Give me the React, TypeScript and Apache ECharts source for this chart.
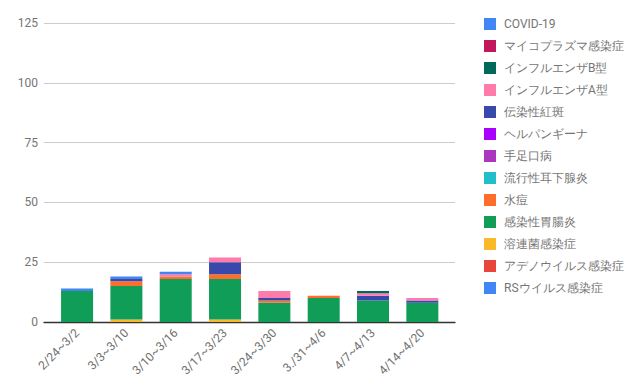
import React, { useEffect, useRef } from "react";
import * as echarts from "echarts";

const categories = ["2/24~3/2", "3/3~3/10", "3/10~3/16", "3/17~3/23", "3/24~3/30", "3./31~4/6", "4/7~4/13", "4/14~4/20"];
const yTicks = { min: 0, max: 125, interval: 25 };

// stacking order: bottom -> top
const seriesNames = [
  "RSウイルス感染症",
  "アデノウイルス感染症",
  "溶連菌感染症",
  "感染性胃腸炎",
  "水痘",
  "流行性耳下腺炎",
  "手足口病",
  "ヘルパンギーナ",
  "伝染性紅斑",
  "インフルエンザA型",
  "インフルエンザB型",
  "マイコプラズマ感染症",
  "COVID-19",
];
const seriesColors = [
  "#4285F4",
  "#E8453C",
  "#FBB829",
  "#0F9D58",
  "#FF6D2A",
  "#22BFCB",
  "#AB36C0",
  "#AA00FF",
  "#3849AB",
  "#FF7BAC",
  "#00695C",
  "#C2185B",
  "#4285F4",
];
const rsValues = [0, 0, 0, 0, 0, 0, 0, 0];
const adenoValues = [0, 0, 0, 0, 0, 0, 0, 0];
const strepValues = [0, 1, 0, 1, 0, 0, 0, 0];
const gastroValues = [13, 14, 18, 17, 8, 10, 9, 8];
const varicellaValues = [0, 2, 1, 2, 1, 1, 0, 0];
const mumpsValues = [0, 0, 0, 0, 0, 0, 0, 0];
const hfmdValues = [0, 0, 0, 0, 0, 0, 0, 0];
const herpanginaValues = [0, 0, 0, 0, 0, 0, 0, 0];
const erythemaValues = [0, 1, 0, 5, 1, 0, 2, 1];
const fluAValues = [0, 0, 1, 2, 3, 0, 1, 1];
const fluBValues = [0, 0, 0, 0, 0, 0, 1, 0];
const mycoValues = [0, 0, 0, 0, 0, 0, 0, 0];
const covidValues = [1, 1, 1, 0, 0, 0, 0, 0];

const seriesValues = [
  rsValues, adenoValues, strepValues, gastroValues, varicellaValues, mumpsValues,
  hfmdValues, herpanginaValues, erythemaValues, fluAValues, fluBValues, mycoValues, covidValues,
];

export default function App() {
  const ref = useRef<HTMLDivElement>(null);
  useEffect(() => {
    if (!ref.current) return;
    const chart = echarts.init(ref.current, undefined, { renderer: "svg" });
    const font = "Roboto, Arial, sans-serif";
    chart.setOption({
      animation: false,
      backgroundColor: "#ffffff",
      legend: {
        orient: "vertical",
        left: 479,
        top: 13,
        itemWidth: 12,
        itemHeight: 12,
        itemGap: 10,
        icon: "rect",
        data: [...seriesNames].reverse(),
        textStyle: { color: "#757575", fontSize: 12, fontFamily: font, lineHeight: 12, padding: [0, 0, 0, 3] },
        selectedMode: false,
      },
      grid: [
        { left: 44, right: 183, top: 23, bottom: 70 },
        { left: 52.4, right: 191, top: 23, bottom: 70 },
      ],
      xAxis: [
        {
          type: "category",
          gridIndex: 0,
          data: categories,
          axisLine: { show: true, lineStyle: { color: "#333333", width: 1.3 } },
          axisTick: { show: false },
          axisLabel: { show: false },
        },
        {
          type: "category",
          gridIndex: 1,
          data: categories,
          axisLine: { show: false },
          axisTick: { show: false },
          axisLabel: {
            rotate: 45,
            margin: 9,
            color: "#6e6e6e",
            fontSize: 12,
            fontFamily: font,
            interval: 0,
          },
        },
      ],
      yAxis: [
        {
          type: "value",
          gridIndex: 0,
          min: yTicks.min,
          max: yTicks.max,
          interval: yTicks.interval,
          axisLine: { show: false },
          axisTick: { show: false },
          axisLabel: { color: "#757575", fontSize: 12, fontFamily: font, margin: 6 },
          splitLine: { lineStyle: { color: "#cccccc", width: 1 } },
        },
        {
          type: "value",
          gridIndex: 1,
          min: yTicks.min,
          max: yTicks.max,
          interval: yTicks.interval,
          axisLine: { show: false },
          axisTick: { show: false },
          axisLabel: { show: false },
          splitLine: { show: false },
        },
      ],
      series: seriesNames.map((name, i) => ({
        name,
        type: "bar",
        stack: "total",
        xAxisIndex: 1,
        yAxisIndex: 1,
        barWidth: 32,
        itemStyle: { color: seriesColors[i] },
        emphasis: { disabled: true },
        data: seriesValues[i],
      })),
    });
    return () => chart.dispose();
  }, []);
  return <div ref={ref} style={{ width: 638, height: 392, position: "absolute", left: 0, top: 0 }} />;
}
